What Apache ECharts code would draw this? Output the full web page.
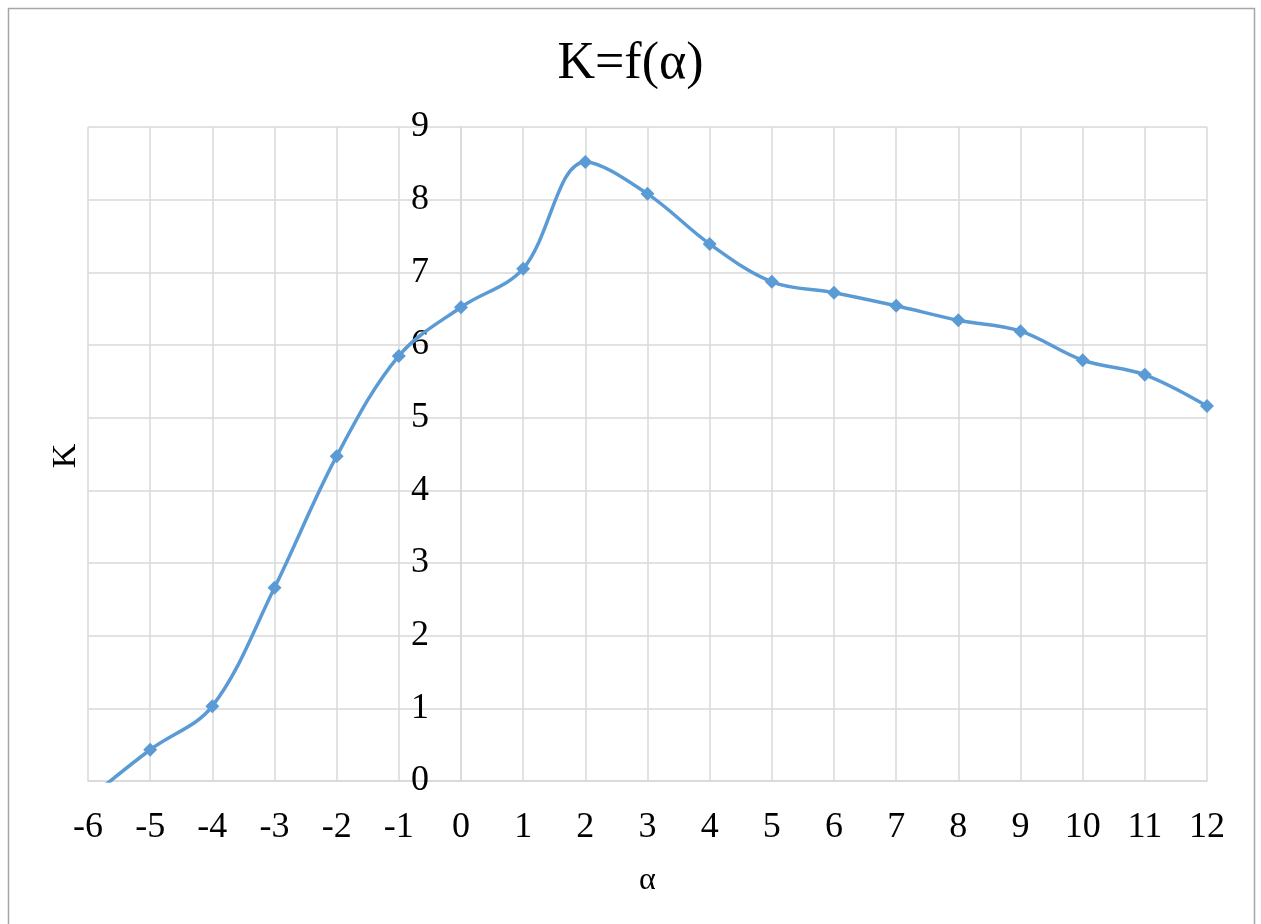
<!DOCTYPE html>
<html>
<head>
    <meta charset="utf-8">
    <title>K=f(α)</title>
    <script src="https://cdn.jsdelivr.net/npm/echarts@6/dist/echarts.min.js"></script>
    <style>
        body { margin: 0; background: #fff; }
    </style>
</head>
<body>
    <div id="c" style="width: 1261px;height:924px;"></div>
    <script>
        // values
        var alpha = [-6, -5, -4, -3, -2, -1, 0, 1, 2, 3, 4, 5, 6, 7, 8, 9, 10, 11, 12];
        var kValues = [-0.25, 0.43, 1.03, 2.66, 4.47, 5.85, 6.52, 7.05, 8.52, 8.08, 7.39, 6.87, 6.72, 6.54, 6.34, 6.19, 5.79, 5.59, 5.16];

        var points = alpha.map(function (a, i) { return [a, kValues[i]]; });
        var serif = '"Liberation Serif", "DejaVu Serif", serif';

        // y axis sits on alpha = 0: shift it in from the left edge of the grid
        var gridLeft = 88, gridRight = 54, width = 1261;
        var plotW = width - gridLeft - gridRight;
        var yAxisOffset = -plotW * (0 - alpha[0]) / (alpha[alpha.length - 1] - alpha[0]);

        var myChart = echarts.init(document.getElementById('c'));
        var option = {
            backgroundColor: '#fff',
            animation: false,
            title: {
                text: 'K=f(α)',
                left: 'center',
                top: 33,
                textStyle: { fontFamily: serif, fontSize: 52, fontWeight: 'normal', color: '#000' }
            },
            graphic: [
                {
                    type: 'rect',
                    shape: { x: 8.5, y: 8.5, width: 1246, height: 930 },
                    style: { fill: 'none', stroke: '#a6a6a6', lineWidth: 1.5 },
                    z: -1
                },
                {
                    type: 'text',
                    x: 66, y: 456,
                    rotation: Math.PI / 2,
                    style: {
                        text: 'K', fontFamily: serif, fontSize: 34, fill: '#000',
                        align: 'center', verticalAlign: 'middle'
                    }
                }
            ],
            grid: { left: gridLeft, right: gridRight, top: 127, bottom: 143 },
            xAxis: {
                type: 'value',
                min: -6, max: 12, interval: 1,
                name: 'α',
                nameLocation: 'middle',
                nameGap: 84,
                nameTextStyle: { fontFamily: serif, fontSize: 32, color: '#000' },
                axisLine: { lineStyle: { color: '#d9d9d9', width: 1.5 } },
                axisTick: { show: false },
                axisLabel: { fontFamily: serif, fontSize: 36, color: '#000', margin: 29 },
                splitLine: { lineStyle: { color: '#d9d9d9', width: 1.5 } }
            },
            yAxis: {
                type: 'value',
                min: 0, max: 9, interval: 1,
                offset: yAxisOffset,
                axisLine: { show: true, onZero: false, lineStyle: { color: '#d9d9d9', width: 1.5 } },
                axisTick: { show: false },
                axisLabel: { fontFamily: serif, fontSize: 36, color: '#000', margin: 32 },
                splitLine: { lineStyle: { color: '#d9d9d9', width: 1.5 } }
            },
            series: [{
                type: 'line',
                data: points,
                smooth: 0.35,
                clip: true,
                symbol: 'diamond',
                symbolSize: 14,
                lineStyle: { color: '#5b9bd5', width: 3.5 },
                itemStyle: { color: '#5b9bd5' }
            }]
        };
        myChart.setOption(option);
    </script>
</body>
</html>
